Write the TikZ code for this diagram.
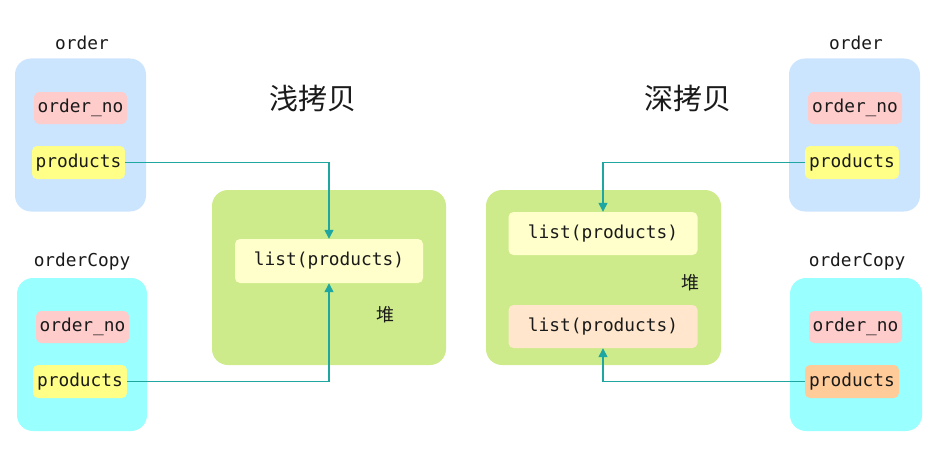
\documentclass[tikz,border=0pt]{standalone}
\usepackage{fontspec}
\setmonofont{DejaVu Sans Mono}
\newfontfamily\cjk{Noto Sans CJK SC}
\usetikzlibrary{arrows.meta}
\definecolor{cblue}{HTML}{CCE5FF}
\definecolor{ccyan}{HTML}{99FFFF}
\definecolor{cgreen}{HTML}{CDEB8B}
\definecolor{cpink}{HTML}{FFCCCC}
\definecolor{cyel}{HTML}{FFFF88}
\definecolor{clist}{HTML}{FFFFCC}
\definecolor{clist2}{HTML}{FFE6CC}
\definecolor{corange}{HTML}{FFCC99}
\definecolor{carrow}{HTML}{1FA6A0}
\definecolor{ctext}{HTML}{1A1A1A}
\tikzset{
  container/.style={rectangle, rounded corners=16pt, inner sep=0pt},
  field/.style={rectangle, rounded corners=5pt, inner sep=0pt, font=\ttfamily\fontsize{17.8}{19}\selectfont, text=ctext},
  lbl/.style={font=\ttfamily\fontsize{17.8}{19}\selectfont, text=ctext, inner sep=0pt},
  title/.style={font=\cjk\fontsize{29}{32}\selectfont, text=ctext, inner sep=0pt},
  heap/.style={font=\cjk\fontsize{18}{20}\selectfont, text=ctext, inner sep=0pt},
  arr/.style={draw=carrow, line width=1.3pt, -{Triangle[width=9pt,length=9pt]}}
}
\begin{document}
\begin{tikzpicture}[x=1pt,y=-1pt]
\useasboundingbox (0,0) rectangle (937,452);
% ---------- left: shallow copy ----------
\node[lbl] (lord) at (82,43) {order};
\node[container, fill=cblue, minimum width=131pt, minimum height=153pt] (lbox1) at (80.5,135) {};
\node[field, fill=cpink, minimum width=93pt, minimum height=32pt] (lno1) at (80.5,108) {order\_no};
\node[field, fill=cyel, minimum width=93pt, minimum height=33pt] (lp1) at (78.5,162.5) {products};

\node[lbl] (lordc) at (82,262) {orderCopy};
\node[container, fill=ccyan, minimum width=130pt, minimum height=153pt] (lbox2) at (82,354.5) {};
\node[field, fill=cpink, minimum width=93pt, minimum height=32pt] (lno2) at (82.5,327) {order\_no};
\node[field, fill=cyel, minimum width=94pt, minimum height=33pt] (lp2) at (80,381.5) {products};

\node[title] (t1) at (313,98) {浅拷贝};
\node[container, fill=cgreen, minimum width=234pt, minimum height=175pt] (lheap) at (329,277.5) {};
\node[field, fill=clist, minimum width=188pt, minimum height=44pt] (llist) at (329,261) {list(products)};
\node[heap] (lh) at (385,315) {堆};

\draw[arr] (lp1.east) -| (llist.north);
\draw[arr] (lp2.east) -| (llist.south);

% ---------- right: deep copy ----------
\node[lbl] (rord) at (856,43) {order};
\node[container, fill=cblue, minimum width=131pt, minimum height=153pt] (rbox1) at (854.5,135) {};
\node[field, fill=cpink, minimum width=94pt, minimum height=32pt] (rno1) at (855,108) {order\_no};
\node[field, fill=cyel, minimum width=94pt, minimum height=33pt] (rp1) at (852,162.5) {products};

\node[lbl] (rordc) at (857,262) {orderCopy};
\node[container, fill=ccyan, minimum width=132pt, minimum height=153pt] (rbox2) at (856,354.5) {};
\node[field, fill=cpink, minimum width=93pt, minimum height=32pt] (rno2) at (855.5,327) {order\_no};
\node[field, fill=corange, minimum width=94pt, minimum height=33pt] (rp2) at (852,381.5) {products};

\node[title] (t2) at (688,98) {深拷贝};
\node[container, fill=cgreen, minimum width=235pt, minimum height=175pt] (rheap) at (603.5,277.5) {};
\node[field, fill=clist, minimum width=189pt, minimum height=43pt] (rlist1) at (603,233.5) {list(products)};
\node[heap] (rh) at (690,283) {堆};
\node[field, fill=clist2, minimum width=189pt, minimum height=43pt] (rlist2) at (603,326.5) {list(products)};

\draw[arr] (rp1.west) -| (rlist1.north);
\draw[arr] (rp2.west) -| (rlist2.south);
\end{tikzpicture}
\end{document}
